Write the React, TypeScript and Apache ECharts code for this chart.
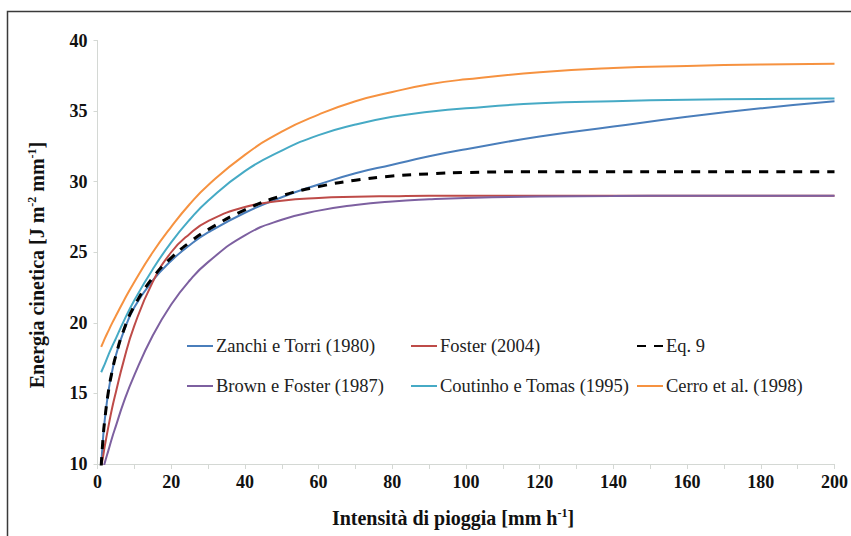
import React, { useEffect, useRef } from 'react';
import * as echarts from 'echarts';

// Rainfall intensity [mm h-1]
const intensity = [1, 1.5, 2, 3, 4, 5, 7, 10, 15, 20, 25, 30, 40, 50, 60, 70, 80, 90, 100, 120, 140, 160, 180, 200];
// Kinetic energy [J m-2 mm-1]
const zanchiTorri = [9.8, 11.8, 13.2, 15.2, 16.6, 17.7, 19.3, 21.1, 23.0, 24.4, 25.5, 26.4, 27.8, 28.9, 29.8, 30.6, 31.2, 31.8, 32.3, 33.2, 33.9, 34.6, 35.2, 35.7];
const foster2004 = [9.8, 10.5, 11.3, 12.7, 14.0, 15.1, 17.2, 19.8, 22.9, 25.0, 26.3, 27.2, 28.2, 28.65, 28.85, 28.93, 28.97, 29.0, 29.0, 29.0, 29.0, 29.0, 29.0, 29.0];
const eq9 = [9.85, 11.8, 13.2, 15.2, 16.6, 17.7, 19.4, 21.2, 23.2, 24.6, 25.7, 26.6, 28.0, 29.0, 29.65, 30.1, 30.4, 30.55, 30.65, 30.7, 30.7, 30.7, 30.7, 30.7];
const brownFoster = [9.1, 9.6, 10.1, 11.0, 11.9, 12.7, 14.3, 16.3, 19.1, 21.3, 23.0, 24.3, 26.2, 27.3, 27.95, 28.35, 28.6, 28.75, 28.85, 28.95, 28.98, 29.0, 29.0, 29.0];
const coutinhoTomas = [16.5, 16.8, 17.1, 17.75, 18.35, 18.9, 20.05, 21.6, 23.8, 25.7, 27.3, 28.65, 30.75, 32.2, 33.3, 34.05, 34.6, 34.95, 35.2, 35.55, 35.7, 35.8, 35.85, 35.9];
const cerro = [18.3, 18.6, 18.9, 19.45, 20.0, 20.5, 21.5, 22.9, 25.0, 26.8, 28.4, 29.75, 31.9, 33.55, 34.75, 35.7, 36.35, 36.9, 37.25, 37.75, 38.05, 38.2, 38.3, 38.35];

const seriesNames = [
  'Zanchi e Torri (1980)',
  'Foster (2004)',
  'Eq. 9',
  'Brown e Foster (1987)',
  'Coutinho e Tomas (1995)',
  'Cerro et al. (1998)',
];

const FONT = 'Liberation Serif';

const zip = (ys: number[]) => intensity.map((x, i) => [x, ys[i]]);

export default function App() {
  const ref = useRef<HTMLDivElement>(null);
  useEffect(() => {
    if (!ref.current) return;
    const chart = echarts.init(ref.current, undefined, { renderer: 'svg' });
    const line = (name: string, data: number[], color: string, extra: any = {}) => ({
      name,
      type: 'line',
      data: zip(data),
      smooth: true,
      symbol: 'none',
      showSymbol: false,
      clip: true,
      lineStyle: { color, width: 2 },
      itemStyle: { color },
      ...extra,
    });
    const legendBase = {
      orient: 'vertical',
      itemWidth: 26,
      itemHeight: 14,
      itemGap: 20,
      padding: 0,
      itemStyle: { opacity: 0 },
      textStyle: { fontFamily: FONT, fontSize: 18.5, color: '#222', lineHeight: 20, padding: [0, 0, 0, -2] },
      selectedMode: false,
    };
    const richTitle = {
      b: { fontFamily: FONT, fontWeight: 'bold', fontSize: 20, lineHeight: 22, fill: '#111' },
      s: { fontFamily: FONT, fontWeight: 'bold', fontSize: 12, lineHeight: 12, verticalAlign: 'top', fill: '#111' },
    };
    const option: any = {
      animation: false,
      backgroundColor: '#fff',
      grid: { left: 97.5, right: 15.3, top: 40.5, bottom: 72 },
      xAxis: {
        type: 'value',
        min: 0,
        max: 200,
        interval: 10,
        axisLine: { show: true, lineStyle: { color: '#d4d8d4', width: 1 } },
        axisTick: { show: true, length: 5, lineStyle: { color: '#d4d8d4' } },
        splitLine: { show: false },
        axisLabel: {
          margin: 9,
          fontFamily: FONT,
          fontWeight: 'bold',
          fontSize: 18,
          color: '#111',
          formatter: (v: number) => (v % 20 === 0 ? String(v) : ''),
        },
      },
      yAxis: {
        type: 'value',
        min: 10,
        max: 40,
        interval: 5,
        axisLine: { show: true, lineStyle: { color: '#d4d8d4', width: 1 } },
        axisTick: { show: true, length: 4, lineStyle: { color: '#d4d8d4' } },
        splitLine: { show: false },
        axisLabel: {
          margin: 10,
          fontFamily: FONT,
          fontWeight: 'bold',
          fontSize: 18,
          color: '#111',
        },
      },
      legend: [
        { ...legendBase, left: 186, top: 336, data: [seriesNames[0], seriesNames[3]] },
        { ...legendBase, left: 410, top: 336, data: [seriesNames[1], seriesNames[4]] },
        { ...legendBase, left: 636, top: 336, data: [seriesNames[2], seriesNames[5]] },
      ],
      series: [
        line(seriesNames[0], zanchiTorri, '#4A7EBB'),
        line(seriesNames[1], foster2004, '#BE4B48'),
        line(seriesNames[3], brownFoster, '#7D60A0'),
        line(seriesNames[4], coutinhoTomas, '#46AAC5'),
        line(seriesNames[5], cerro, '#F69240'),
        line(seriesNames[2], eq9, '#000', {
          lineStyle: { color: '#000', width: 3, type: [9, 8] },
          z: 5,
        }),
      ],
      graphic: [
        {
          type: 'rect',
          shape: { x: 7.5, y: 11.5, width: 900, height: 600 },
          style: { fill: 'none', stroke: '#3a3a3a', lineWidth: 1.5 },
          silent: true,
        },
        {
          type: 'text',
          x: 453,
          y: 518,
          style: {
            text: '{b|Intensità di pioggia [mm h}{s|-1}{b|]}',
            align: 'center',
            verticalAlign: 'middle',
            fill: '#111',
            rich: richTitle,
          },
        },
        {
          type: 'text',
          x: 37,
          y: 265,
          rotation: Math.PI / 2,
          style: {
            text: '{b|Energia cinetica [J m}{s|-2}{b| mm}{s|-1}{b|]}',
            align: 'center',
            verticalAlign: 'middle',
            fill: '#111',
            rich: richTitle,
          },
        },
      ],
    };
    chart.setOption(option);
    return () => chart.dispose();
  }, []);
  return (
    <div
      ref={ref}
      style={{ position: 'absolute', left: 0, top: 0, width: 851, height: 536, background: '#fff' }}
    />
  );
}
